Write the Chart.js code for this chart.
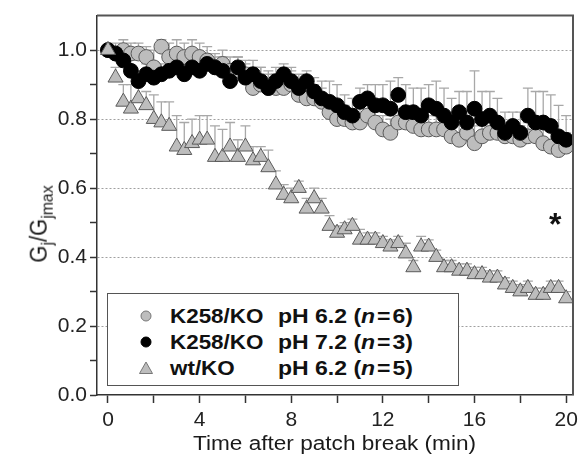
<!DOCTYPE html>
<html>
<head>
<meta charset="utf-8">
<script src="https://cdn.jsdelivr.net/npm/chart.js@4"></script>
<style>
  body { margin: 0; background: #fff; }
  #wrap { position: relative; width: 587px; height: 461px; overflow: hidden;
          font-family: "Liberation Sans", Arial, Helvetica, sans-serif; color: #111; }
  #c { position: absolute; left: 0; top: 0; }
  .t { position: absolute; white-space: nowrap; }
  #xtitle { left: 193px; top: 432px; font-size: 20px; line-height: 22px; color: #1a1a1a;
            transform: scaleX(1.13); transform-origin: 0 0; }
  #ytitle { left: 39px; top: 224px; font-size: 22px; line-height: 26px; color: #1a1a1a;
            transform: translate(-50%, -50%) rotate(-90deg) scaleY(1.1); }
  #ytitle sub { font-size: 0.72em; vertical-align: -0.32em; line-height: 0; }
  #star { left: 549px; top: 208px; font-size: 32px; line-height: 32px; font-weight: bold; }
  #legend { position: absolute; left: 107px; top: 293px; width: 350px; height: 91px;
            border: 1.5px solid #555; background: #fff; }
  .row { position: absolute; left: 0; height: 24px; width: 350px; font-weight: bold;
         font-size: 20px; line-height: 24px; }
  .row svg { position: absolute; left: 31px; top: 5px; }
  .row .nm { position: absolute; left: 62px; top: 0; transform: scaleX(1.12); transform-origin: 0 0; }
  .row .ph { position: absolute; left: 170px; top: 0; transform: scaleX(1.15); transform-origin: 0 0; }
</style>
</head>
<body>
<div id="wrap">
  <canvas id="c" width="587" height="461"></canvas>
  <div class="t" id="ytitle">G<sub>j</sub>/G<sub>jmax</sub></div>
  <div class="t" id="xtitle">Time after patch break (min)</div>
  <div class="t" id="star">*</div>
  <div id="legend">
    <div class="row" style="top:10px">
      <svg width="14" height="14"><circle cx="7" cy="7" r="5" fill="#bdbdbd" stroke="#777" stroke-width="1"/></svg>
      <span class="nm">K258/KO</span><span class="ph">pH 6.2 (<i>n</i>&#8202;=&#8202;6)</span>
    </div>
    <div class="row" style="top:36px">
      <svg width="14" height="14"><circle cx="7" cy="7" r="5" fill="#000" stroke="#000" stroke-width="1"/></svg>
      <span class="nm">K258/KO</span><span class="ph">pH 7.2 (<i>n</i>&#8202;=&#8202;3)</span>
    </div>
    <div class="row" style="top:62px">
      <svg width="14" height="14"><polygon points="7,1 13.5,12.5 0.5,12.5" fill="#bdbdbd" stroke="#777" stroke-width="1"/></svg>
      <span class="nm">wt/KO</span><span class="ph">pH 6.2 (<i>n</i>&#8202;=&#8202;5)</span>
    </div>
  </div>
</div>
<script>
// Time after patch break (min), one sample every 20 s
const times = [0,0.33,0.67,1,1.33,1.67,2,2.33,2.67,3,3.33,3.67,4,4.33,4.67,5,5.33,5.67,6,6.33,6.67,
  7,7.33,7.67,8,8.33,8.67,9,9.33,9.67,10,10.33,10.67,11,11.33,11.67,12,12.33,12.67,13,13.33,13.67,
  14,14.33,14.67,15,15.33,15.67,16,16.33,16.67,17,17.33,17.67,18,18.33,18.67,19,19.33,19.67,20];

// K258/KO pH 6.2 (n=6) – grey circles
const k258pH62 = [1.00,0.99,1.00,0.99,0.99,0.98,0.95,1.01,0.98,0.99,0.98,0.99,0.98,0.97,0.95,0.96,
  0.94,0.94,0.93,0.89,0.90,0.89,0.89,0.89,0.90,0.87,0.86,0.86,0.85,0.82,0.80,0.80,0.79,0.79,0.81,
  0.79,0.77,0.76,0.79,0.79,0.78,0.77,0.77,0.77,0.77,0.75,0.74,0.76,0.73,0.75,0.76,0.76,0.75,0.75,
  0.74,0.75,0.75,0.73,0.72,0.71,0.72];
const k258pH62Err = [0,0.03,0.03,0.03,0.03,0.03,0.05,0.02,0.04,0.04,0.04,0.04,0.04,0.04,0.04,0.04,
  0.04,0.04,0.04,0.06,0.05,0.04,0.04,0.04,0.04,0.04,0.04,0.04,0.04,0.04,0.04,0.04,0.04,0.04,0.04,
  0.04,0.04,0.04,0.04,0.04,0.04,0.04,0.04,0.04,0.04,0.04,0.05,0.04,0.05,0.04,0.04,0.04,0.04,0.04,
  0.04,0.04,0.05,0.05,0.05,0.05,0.04];

// K258/KO pH 7.2 (n=3) – black circles
const k258pH72 = [1.00,0.99,0.97,0.94,0.91,0.93,0.92,0.93,0.94,0.95,0.93,0.95,0.94,0.96,0.95,0.94,
  0.91,0.95,0.92,0.93,0.91,0.89,0.91,0.93,0.91,0.89,0.91,0.88,0.86,0.85,0.84,0.82,0.81,0.85,0.86,
  0.84,0.84,0.83,0.87,0.82,0.82,0.81,0.84,0.83,0.81,0.79,0.82,0.79,0.83,0.80,0.81,0.79,0.76,0.78,
  0.76,0.81,0.79,0.79,0.78,0.75,0.74];
const k258pH72Err = [0,0.02,0.02,0.03,0.03,0.03,0.03,0.03,0.03,0.03,0.03,0.03,0.03,0.03,0.03,0.04,
  0.05,0.03,0.04,0.04,0.04,0.05,0.04,0.03,0.04,0.04,0.03,0.04,0.05,0.06,0.06,0.05,0.05,0.04,0.04,
  0.06,0.06,0.08,0.05,0.08,0.07,0.08,0.06,0.08,0.08,0.07,0.06,0.09,0.11,0.08,0.07,0.07,0.06,0.04,
  0.06,0.08,0.09,0.09,0.09,0.09,0.07];

// wt/KO pH 6.2 (n=5) – grey triangles
const wtKOpH62 = [1.00,0.92,0.85,0.83,0.86,0.84,0.80,0.79,0.78,0.72,0.71,0.73,0.74,0.74,0.69,0.69,
  0.72,0.69,0.72,0.68,0.69,0.66,0.61,0.58,0.57,0.60,0.54,0.57,0.54,0.49,0.47,0.48,0.49,0.45,0.45,
  0.45,0.44,0.43,0.44,0.41,0.37,0.43,0.43,0.40,0.37,0.37,0.36,0.36,0.35,0.35,0.34,0.34,0.32,0.31,
  0.30,0.31,0.29,0.29,0.31,0.31,0.28];
const wtKOpH62Err = [0,0.03,0.05,0.07,0.04,0.04,0.07,0.06,0.07,0.09,0.08,0.07,0.07,0.07,0.09,0.08,
  0.07,0.05,0.06,0.04,0.03,0.05,0.04,0.03,0.03,0.02,0.03,0.03,0.03,0.03,0.02,0.02,0.02,0.03,0.02,
  0.02,0.02,0.02,0.02,0.03,0.02,0.03,0.02,0.02,0.02,0.02,0.02,0.02,0.02,0.02,0.02,0.02,0.02,0.02,
  0.02,0.02,0.02,0.02,0.02,0.02,0.02];

const yTickLabels = ['0.0','0.2','0.4','0.6','0.8','1.0'];
const xTickLabels = ['0','4','8','12','16','20'];

const FONT = '"Liberation Sans", Arial, Helvetica, sans-serif';
const pts = arr => times.map((t, i) => ({ x: t, y: arr[i] }));

const series = [
  { data: wtKOpH62, err: wtKOpH62Err },
  { data: k258pH72, err: k258pH72Err },
  { data: k258pH62, err: k258pH62Err }
];

const errorBars = {
  id: 'errorBars',
  beforeDatasetsDraw(chart) {
    const { ctx, scales: { x, y } } = chart;
    ctx.save();
    ctx.strokeStyle = '#a8a8a8';
    ctx.lineWidth = 1.3;
    series.forEach(s => {
      s.data.forEach((v, i) => {
        const e = s.err[i];
        if (!e) return;
        const px = x.getPixelForValue(times[i]);
        const p0 = y.getPixelForValue(v);
        const p1 = y.getPixelForValue(v + e);
        ctx.beginPath();
        ctx.moveTo(px, p0); ctx.lineTo(px, p1);
        ctx.moveTo(px - 5, p1); ctx.lineTo(px + 5, p1);
        ctx.stroke();
      });
    });
    ctx.restore();
  }
};

const frame = {
  id: 'frame',
  afterDraw(chart) {
    const { ctx, chartArea: a } = chart;
    ctx.save();
    ctx.strokeStyle = '#555';
    ctx.lineWidth = 2;
    ctx.beginPath();
    ctx.moveTo(a.left, a.top);
    ctx.lineTo(a.right, a.top);
    ctx.lineTo(a.right, a.bottom);
    ctx.stroke();
    ctx.restore();
  }
};

new Chart(document.getElementById('c'), {
  type: 'scatter',
  data: {
    datasets: [
      { label: 'wt/KO pH 6.2 (n=5)', data: pts(wtKOpH62), pointStyle: 'triangle', pointRadius: 8.7,
        backgroundColor: '#bdbdbd', borderColor: '#5a5a5a', borderWidth: 1 },
      { label: 'K258/KO pH 7.2 (n=3)', data: pts(k258pH72), pointStyle: 'circle', pointRadius: 7.4,
        backgroundColor: '#000', borderColor: '#000', borderWidth: 1 },
      { label: 'K258/KO pH 6.2 (n=6)', data: pts(k258pH62), pointStyle: 'circle', pointRadius: 7.4,
        backgroundColor: '#bdbdbd', borderColor: '#5a5a5a', borderWidth: 1 }
    ]
  },
  options: {
    responsive: false,
    animation: false,
    devicePixelRatio: 1,
    layout: { padding: { top: 10, right: 14, left: 0, bottom: 0 } },
    plugins: { legend: { display: false }, tooltip: { enabled: false } },
    scales: {
      x: {
        type: 'linear', min: -0.48, max: 20.3,
        ticks: {
          stepSize: 2, includeBounds: false, autoSkip: false, maxRotation: 0, minRotation: 0,
          padding: 5, color: '#222', font: { family: FONT, size: 21 },
          callback: v => { const k = Math.round(v); return (k % 4 === 0) ? xTickLabels[k / 4] : ''; }
        },
        grid: { drawOnChartArea: false, drawTicks: true, tickLength: 8, tickColor: '#333', tickWidth: 1.5 },
        border: { display: true, color: '#333', width: 1.5 },
        afterFit: s => { s.height = 66; }
      },
      y: {
        type: 'linear', min: 0, max: 1.1,
        ticks: {
          stepSize: 0.1, includeBounds: false, autoSkip: false, padding: 3, color: '#222',
          font: { family: FONT, size: 21 },
          callback: v => { const k = Math.round(v * 10); return (k % 2 === 0) ? yTickLabels[k / 2] : ''; }
        },
        grid: {
          drawOnChartArea: true, drawTicks: true, tickLength: 7, tickWidth: 1.5, lineWidth: 1,
          color: c => { if (!c.tick) return 'rgba(0,0,0,0)'; const k = Math.round(c.tick.value * 10);
                        return (k % 2 === 0 && k > 0 && k <= 10) ? '#a0a0a0' : 'rgba(0,0,0,0)'; },
          tickColor: c => (c.tick && c.tick.value > 1.05) ? 'rgba(0,0,0,0)' : '#333'
        },
        border: { display: true, color: '#333', width: 1.5, dash: [2, 2] },
        afterFit: s => { s.width = 97; }
      }
    }
  },
  plugins: [errorBars, frame]
});
</script>
</body>
</html>
